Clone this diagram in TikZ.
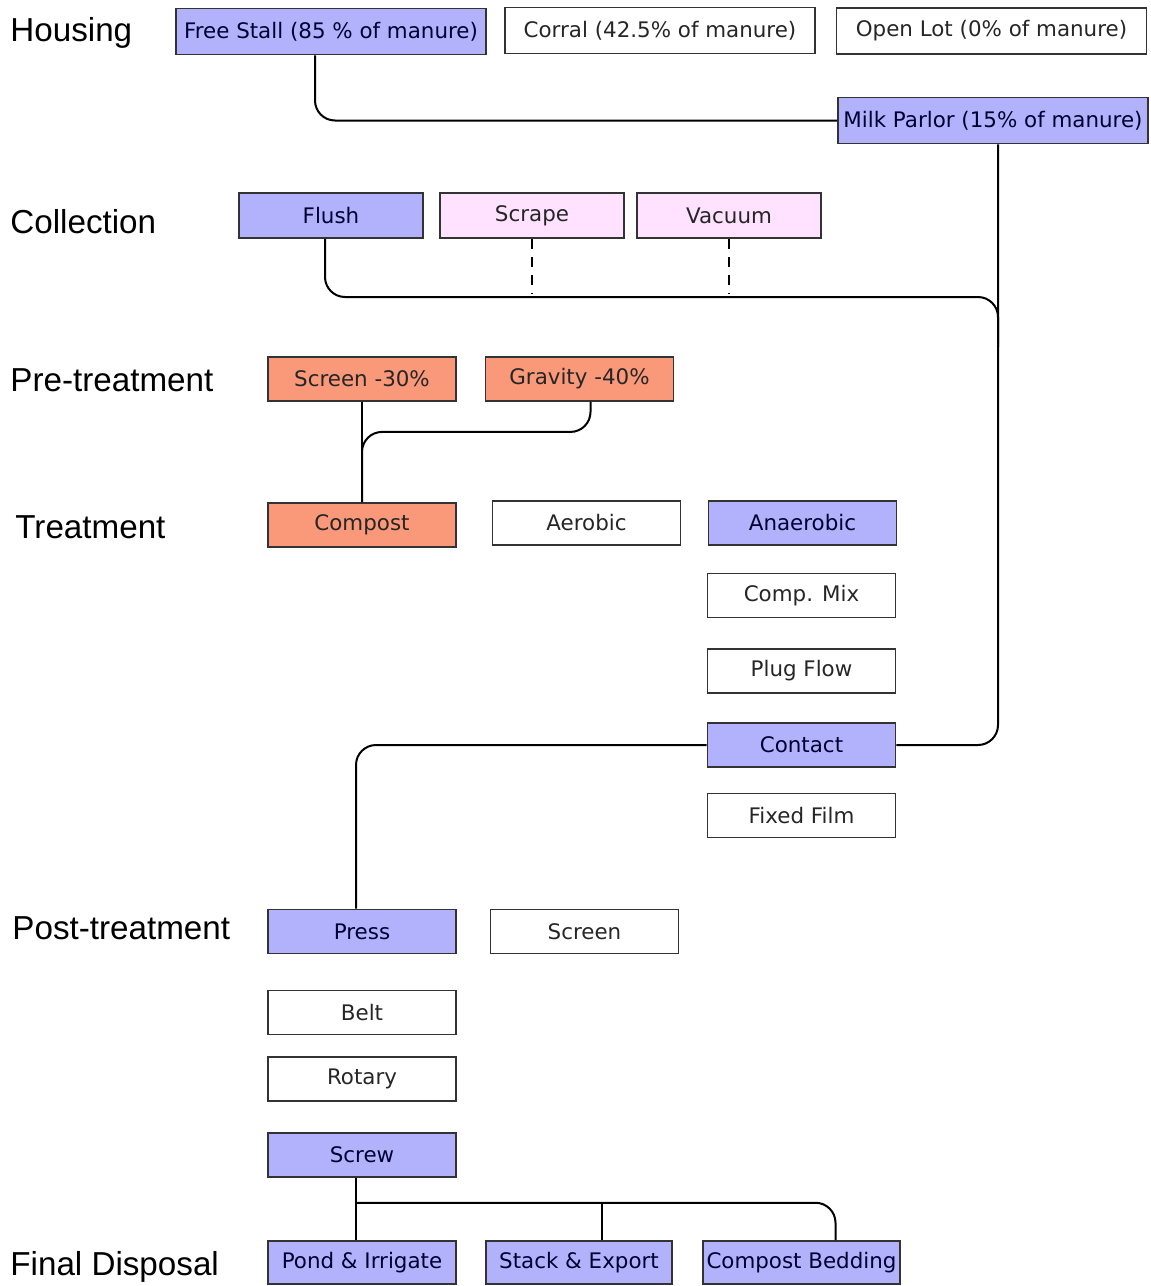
\documentclass[tikz,border=0pt]{standalone}
\usepackage{fontspec}
\setmainfont{DejaVu Sans}
\newfontfamily\stagefont{Liberation Sans}
\usetikzlibrary{calc}

\definecolor{lavender}{RGB}{178,178,252}
\definecolor{pinkish}{RGB}{255,226,255}
\definecolor{salmon}{RGB}{250,152,122}

\begin{document}
\begin{tikzpicture}[x=0.5pt,y=-0.5pt]
      \tikzset{
        box/.style={draw=black!80, line width=0.8pt, rectangle, minimum width=94pt, minimum height=22pt, inner sep=0pt, text=black!85, font=\fontsize{10.7}{12}\selectfont},
        wide/.style={box, minimum width=155pt, minimum height=23pt},
        mid/.style={box, minimum width=92pt, minimum height=22.5pt},
        used/.style={fill=lavender, text=blue!20!black},
        alt/.style={fill=pinkish},
        solids/.style={fill=salmon},
        stage/.style={anchor=west, inner sep=0pt, font=\stagefont\fontsize{16.6}{18}\selectfont},
        line/.style={draw, line width=1pt, rounded corners=10pt},
        dashline/.style={draw, line width=1pt, dash pattern=on 5pt off 4pt},
      }
      \useasboundingbox (0,0) rectangle (1151,1286);

      % stage labels
      \node [stage] (housing) at (10,33) {Housing};
      \node [stage] (collection) at (10,222) {Collection};
      \node [stage] (pretreat) at (10,380) {Pre-treatment};
      \node [stage] (treat) at (15,527) {Treatment};
      \node [stage] (posttreat) at (12,928) {Post-treatment};
      \node [stage] (disposal) at (10,1267) {Final Disposal};

      % housing
      \node [wide, used] (stall) at (331,31.5) {Free Stall (85 \% of manure)};
      \node [wide] (corral) at (660,30.5) {Corral (42.5\% of manure)};
      \node [wide] (openlot) at (991.5,31) {Open Lot (0\% of manure)};
      \node [wide, used] (parlor) at (993,120.5) {Milk Parlor (15\% of manure)};

      % collection
      \node [mid, used] (flush) at (331,215.5) {Flush};
      \node [mid, alt] (scrape) at (532,215.5) {Scrape};
      \node [mid, alt] (vacuum) at (729,215.5) {Vacuum};

      % pre-treatment
      \node [box, solids] (screenpre) at (362,379) {Screen -30\%};
      \node [box, solids] (gravity) at (579.5,379) {Gravity -40\%};

      % treatment
      \node [box, solids] (compost) at (362,525) {Compost};
      \node [box] (aerobic) at (586.5,523) {Aerobic};
      \node [box, used] (anaerobic) at (802.5,523) {Anaerobic};
      \node [box] (compmix) at (801.5,595.5) {Comp. Mix};
      \node [box] (plugflow) at (801.5,671) {Plug Flow};
      \node [box, used] (contact) at (801.5,745) {Contact};
      \node [box] (fixedfilm) at (801.5,815.5) {Fixed Film};

      % post-treatment
      \node [box, used] (press) at (362,931.5) {Press};
      \node [box] (screenpost) at (584.5,931.5) {Screen};
      \node [box] (belt) at (362,1012.5) {Belt};
      \node [box] (rotary) at (362,1079) {Rotary};
      \node [box, used] (screw) at (362,1155) {Screw};

      % final disposal
      \node [box, used, minimum height=21.5pt] (pond) at (362,1262.5) {Pond \& Irrigate};
      \node [box, used, minimum width=93pt, minimum height=21.5pt] (stack) at (579,1262.5) {Stack \& Export};
      \node [box, used, minimum width=98.5pt, minimum height=21.5pt] (bedding) at (801.5,1262.5) {Compost Bedding};

      \coordinate (collect) at (998,297);
      \coordinate (pretee) at ($(screenpre.south)!0.3!(compost.north)$);
      \coordinate (screwout) at ([xshift=-3pt]screw.south);
      \coordinate (disptee) at ($(screwout)!0.4!([xshift=-3pt]pond.north)$);
      \coordinate (stacktop) at ([xshift=11.5pt]stack.north);

      \path [line] ([xshift=-8pt]stall.south) |- (parlor.west);
      \path [line] ([xshift=2.5pt]parlor.south) |- (contact.east);
      \path [line] ([xshift=-3pt]flush.south) |- (collect) -- ([yshift=-25pt]collect);
      \path [dashline, shorten >=2pt] (scrape.south) -- (scrape.south |- collect);
      \path [dashline, shorten >=2pt] (vacuum.south) -- (vacuum.south |- collect);
      \path [line] (screenpre.south) -- (compost.north);
      \path [line] ([xshift=5.5pt]gravity.south) |- (pretee) -- (compost.north);
      \path [line] (contact.west) -| ([xshift=-3pt]press.north);
      \path [line] (screwout) -- ([xshift=-3pt]pond.north);
      \path [line] (disptee) -| ([xshift=17pt]bedding.north);
      \path [line] (stacktop) -- (stacktop |- disptee);
\end{tikzpicture}
\end{document}
